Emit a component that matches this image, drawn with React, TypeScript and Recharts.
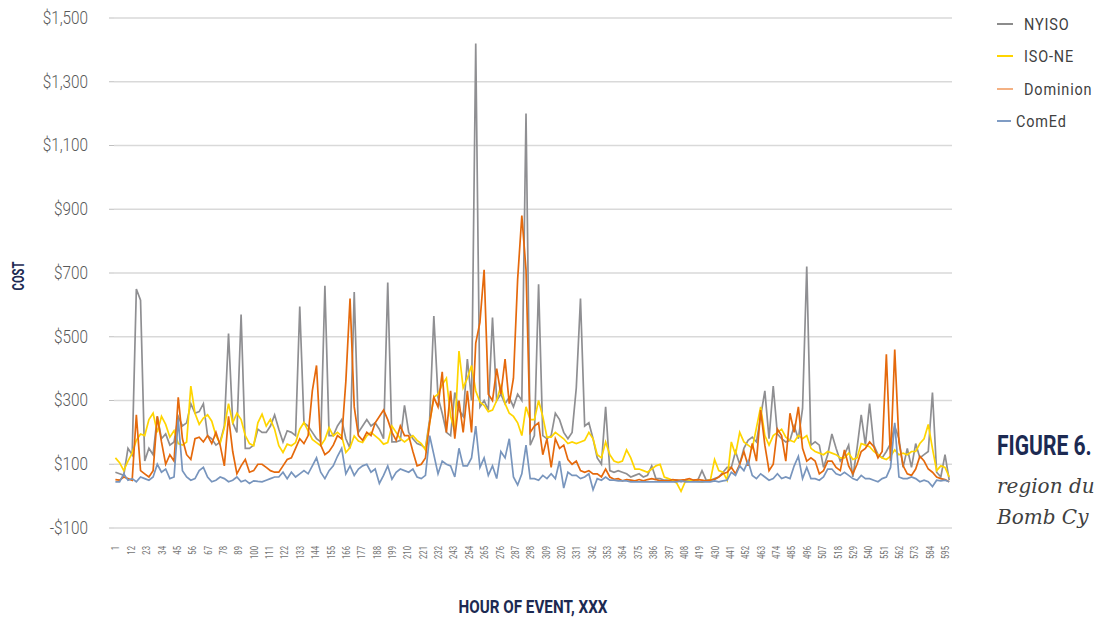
import { CartesianGrid, Line, LineChart, XAxis, YAxis } from "recharts";

// every 3rd hour of the event
const hours = Array.from({ length: 200 }, (_, i) => 1 + i * 3);

const hourTicks = [
  1, 12, 23, 34, 45, 56, 67, 78, 89, 100, 111, 122, 133, 144, 155, 166, 177, 188, 199, 210,
  221, 232, 243, 254, 265, 276, 287, 298, 309, 320, 331, 342, 353, 364, 375, 386, 397, 408,
  419, 430, 441, 452, 463, 474, 485, 496, 507, 518, 529, 540, 551, 562, 573, 584, 595,
];

const costTicks = [-100, 100, 300, 500, 700, 900, 1100, 1300, 1500];

const nyiso = [
  75, 70, 65, 150, 130, 650, 615, 110, 150, 130, 250, 180, 195, 160, 170, 250, 220, 230, 290, 260,
  265, 290, 190, 180, 160, 170, 220, 510, 230, 200, 570, 150, 150,
  160, 210, 200, 200, 220, 255, 210, 170, 205, 200, 190, 595, 230, 220, 200, 180, 170, 660, 190,
  190, 220, 240, 180, 150, 640, 200, 220, 240, 220, 230, 210, 180, 670,
  170, 170, 175, 285, 200, 180, 165, 160, 150, 240, 565, 310, 260, 200, 190, 325, 270, 250, 430,
  300, 1420, 280, 300, 270, 560, 300, 320, 290, 310, 280, 320, 300, 1200,
  160, 190, 665, 190, 180, 190, 260, 240, 200, 180, 200, 340, 620, 220, 230, 180, 120, 100, 280,
  80, 75, 80, 75, 70, 60, 65, 70, 60, 65, 95, 55, 55, 50, 50,
  48, 50, 45, 50, 48, 50, 50, 80, 50, 50, 55, 60, 75, 90, 90, 140, 100, 150, 175, 185, 170, 250,
  330, 180, 345, 195, 180, 170, 175, 220, 180, 275, 720,
  160, 170, 160, 90, 130, 195, 150, 110, 130, 160, 60, 150, 255, 160, 290, 160, 130, 120, 140,
  165, 220, 180, 90, 150, 90, 165, 120, 130, 140, 325, 75, 60, 130, 50,
];

const isoNe = [
  120, 105, 80, 110, 135, 175, 195, 190, 240, 260, 200, 250, 225, 185, 205, 165, 160, 170, 345,
  260, 225, 245, 255, 235, 190, 165, 215, 290, 230, 260, 240, 190, 165,
  158, 230, 257, 220, 241, 210, 158, 137, 163, 158, 168, 210, 231, 205, 178, 168, 158, 178, 215,
  189, 200, 189, 137, 152, 189, 173, 168, 189, 200, 189, 178, 163, 168,
  220, 200, 180, 170, 180, 190, 175, 165, 145, 230, 310, 320, 350, 370, 250, 205, 455, 340, 370,
  410, 330, 295, 285, 265, 270, 300, 345, 290, 260, 250, 230, 190, 280,
  240, 240, 300, 250, 185, 185, 200, 190, 180, 165, 170, 165, 170, 175, 200, 180, 130, 120, 170,
  130, 110, 105, 110, 145, 120, 85, 85, 80, 75, 85, 95, 100, 60, 55,
  50, 40, 15, 45, 48, 48, 46, 45, 48, 50, 115, 80, 75, 50, 170, 130, 200, 170, 160, 150, 215, 280,
  190, 160, 190, 200, 210, 185, 175, 170, 190, 180, 190,
  150, 140, 135, 130, 140, 135, 130, 120, 120, 135, 115, 120, 165, 160, 155, 140, 130, 120, 115,
  125, 145, 130, 135, 130, 140, 140, 165, 180, 225, 150, 80, 95, 90, 60,
];

const dominion = [
  52, 50, 60, 55, 50, 255, 80, 70, 60, 80, 250, 170, 100, 130, 110, 310, 180, 130, 115, 180, 185,
  170, 190, 165, 200, 160, 95, 250, 140, 70, 95, 115, 75,
  80, 100, 100, 90, 80, 75, 75, 95, 115, 120, 150, 180, 165, 190, 330, 410, 160, 130, 140, 160,
  190, 180, 360, 620, 280, 190, 175, 200, 190, 230, 250, 270, 240,
  200, 175, 220, 190, 190, 140, 95, 100, 120, 230, 310, 280, 390, 200, 330, 180, 300, 200, 330,
  200, 480, 545, 710, 320, 300, 400, 320, 430, 290, 370, 680, 880, 710,
  200, 220, 230, 130, 180, 90, 180, 150, 160, 115, 100, 110, 80, 75, 80, 70, 70, 60, 85, 60, 53,
  55, 48, 52, 50, 48, 52, 48, 52, 55, 52, 48, 48, 48,
  52, 50, 50, 52, 55, 50, 52, 50, 48, 50, 52, 60, 70, 75, 90, 70, 100, 140, 95, 165, 110, 270,
  160, 80, 100, 210, 190, 110, 260, 200, 280, 150, 110,
  120, 110, 70, 80, 110, 110, 90, 80, 145, 95, 70, 100, 140, 150, 170, 155, 120, 140, 445, 110,
  460, 170, 95, 70, 65, 85, 125, 110, 85, 75, 60, 55, 52, 45,
];

const comEd = [
  45, 45, 70, 50, 55, 45, 60, 55, 50, 60, 100, 75, 85, 55, 60, 240, 80, 60, 50, 55, 80, 90, 60,
  45, 50, 60, 55, 45, 50, 60, 45, 50, 40,
  48, 46, 45, 50, 55, 60, 60, 75, 55, 75, 60, 70, 80, 70, 95, 120, 75, 55, 80, 95, 125, 150, 70,
  95, 65, 85, 95, 100, 75, 85, 40, 65, 95,
  53, 75, 85, 80, 75, 85, 60, 55, 65, 190, 130, 70, 110, 100, 95, 60, 150, 95, 95, 120, 220, 90,
  120, 65, 95, 55, 140, 120, 180, 60, 35, 70, 160,
  55, 55, 50, 65, 55, 70, 55, 110, 25, 75, 65, 65, 55, 60, 70, 20, 55, 50, 60, 50, 50, 48, 48,
  48, 45, 45, 45, 45, 45, 45, 45, 45, 45, 45,
  45, 45, 48, 45, 45, 45, 45, 45, 45, 45, 48, 45, 48, 50, 75, 65, 95, 80, 110, 65, 55, 70, 60, 50,
  55, 70, 55, 60, 55, 95, 125, 55, 90,
  55, 55, 50, 60, 85, 85, 70, 65, 75, 65, 55, 50, 65, 55, 55, 50, 45, 55, 60, 90, 230, 60, 55,
  55, 60, 55, 45, 50, 45, 30, 50, 48, 50, 45,
];

const series = [
  { key: "nyiso", name: "NYISO", color: "#8f8f92", legend: "#8c8c8c" },
  { key: "isoNe", name: "ISO-NE", color: "#ffd500", legend: "#ffd500" },
  { key: "dominion", name: "Dominion", color: "#e5690c", legend: "#f4b183" },
  { key: "comEd", name: "ComEd", color: "#7895bd", legend: "#7f9cc4" },
];

const data = hours.map((hour, i) => ({
  hour,
  nyiso: nyiso[i],
  isoNe: isoNe[i],
  dominion: dominion[i],
  comEd: comEd[i],
}));

const sans = "Roboto, 'Liberation Sans', sans-serif";
const navy = "#1c2a52";

const money = (v: number) => (v < 0 ? `-$${Math.abs(v)}` : `$${v.toLocaleString("en-US")}`);

// condensed look: squeeze a regular face horizontally
const squeeze = (sx: number): React.CSSProperties => ({
  transform: `scaleX(${sx})`,
  transformOrigin: "left center",
  display: "inline-block",
});

const HourTick = (props: any) => {
  const { x, payload } = props;
  return (
    <text
      transform={`translate(${x}, 546) rotate(-90) scale(0.7, 1)`}
      textAnchor="end"
      dominantBaseline="central"
      fill="#737373"
      fontSize={11}
      fontWeight={400}
      fontFamily={sans}
    >
      {payload.value}
    </text>
  );
};

const CostTick = (props: any) => {
  const { x, y, payload } = props;
  return (
    <text
      transform={`translate(${x}, ${y}) scale(0.85, 1)`}
      textAnchor="end"
      dominantBaseline="central"
      fill="#595959"
      fontSize={18}
      fontWeight={300}
      fontFamily={sans}
    >
      {money(payload.value)}
    </text>
  );
};

export default function App() {
  return (
    <div
      style={{
        position: "absolute",
        left: 0,
        top: 0,
        width: 1097,
        height: 618,
        overflow: "hidden",
        background: "#fff",
      }}
    >
      <LineChart width={960} height={618} data={data} margin={{ top: 18, right: 8, bottom: 30, left: 0 }}>
        <CartesianGrid vertical={false} stroke="#d9d9d9" strokeWidth={1.3} />
        <XAxis
          dataKey="hour"
          type="number"
          domain={[0, 600]}
          ticks={hourTicks}
          interval={0}
          height={60}
          axisLine={false}
          tickLine={false}
          tick={<HourTick />}
        />
        <YAxis
          width={114}
          domain={[-100, 1500]}
          ticks={costTicks}
          interval={0}
          axisLine={false}
          tickLine={{ stroke: "#bfbfbf" }}
          tickSize={5}
          tickMargin={21}
          tick={<CostTick />}
        />
        {series.map((s) => (
          <Line
            key={s.key}
            dataKey={s.key}
            name={s.name}
            type="linear"
            stroke={s.color}
            strokeWidth={1.7}
            dot={false}
            isAnimationActive={false}
          />
        ))}
      </LineChart>

      <div
        style={{
          position: "absolute",
          left: 18,
          top: 276,
          transform: "translate(-50%, -50%) rotate(-90deg) scaleX(0.7)",
          fontFamily: sans,
          fontWeight: 700,
          fontSize: 16,
          color: navy,
          whiteSpace: "nowrap",
        }}
      >
        COST
      </div>
      <div
        style={{
          position: "absolute",
          left: 533,
          top: 606,
          transform: "translate(-50%, -50%) scaleX(0.8)",
          fontFamily: sans,
          fontWeight: 700,
          fontSize: 19,
          color: navy,
          whiteSpace: "nowrap",
        }}
      >
        HOUR OF EVENT, XXX
      </div>

      {series.map((s, i) => (
        <div
          key={s.key}
          style={{
            position: "absolute",
            left: 997,
            top: 24 + i * 32.3 - 10,
            height: 20,
            display: "flex",
            alignItems: "center",
            whiteSpace: "nowrap",
          }}
        >
          <div style={{ width: i === 3 ? 14 : 16, height: 2, background: s.legend }} />
          <span
            style={{
              ...squeeze(0.85),
              marginLeft: i === 3 ? 5 : 11,
              fontFamily: sans,
              fontSize: 17,
              letterSpacing: 1,
              color: "#404040",
            }}
          >
            {s.name}
          </span>
        </div>
      ))}

      <div
        style={{
          position: "absolute",
          left: 997,
          top: 430,
          fontFamily: sans,
          fontWeight: 700,
          fontSize: 27,
          color: navy,
          whiteSpace: "nowrap",
          ...squeeze(0.78),
        }}
      >
        FIGURE 6.
      </div>
      <div
        style={{
          position: "absolute",
          left: 997,
          top: 471,
          fontFamily: "'DejaVu Serif', serif",
          fontStyle: "italic",
          fontSize: 20,
          lineHeight: "31px",
          color: "#404040",
          whiteSpace: "nowrap",
        }}
      >
        region du
        <br />
        Bomb Cy
      </div>
    </div>
  );
}
